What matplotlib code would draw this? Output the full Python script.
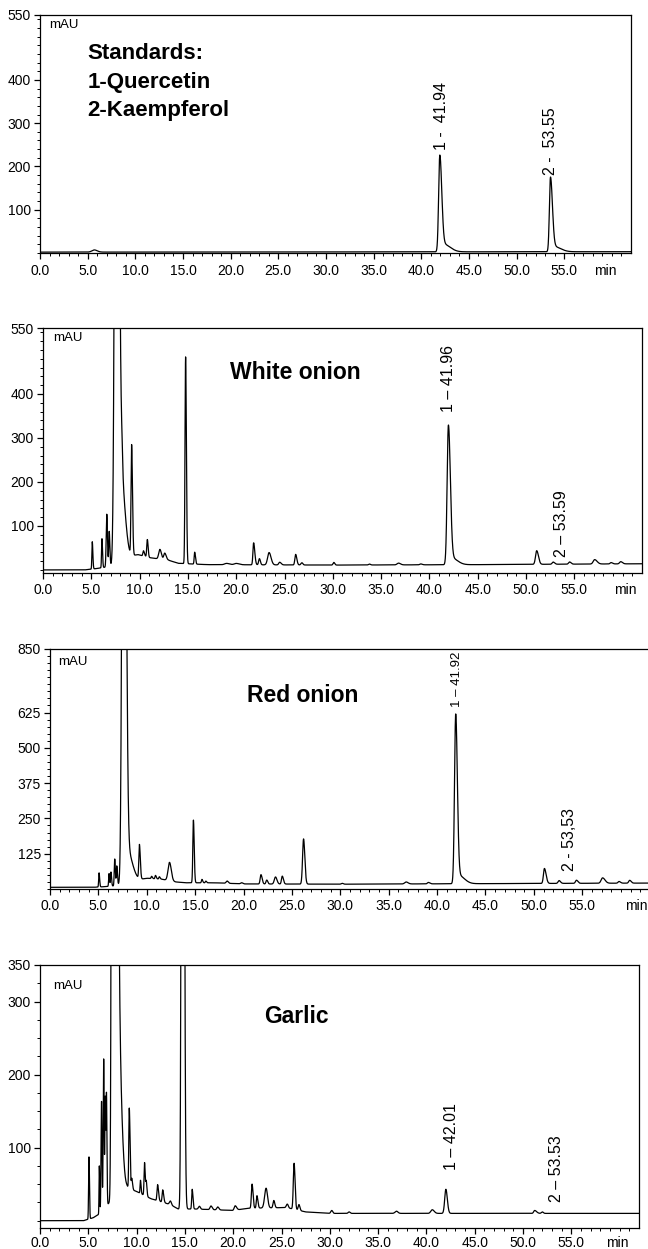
import numpy as np
import matplotlib.pyplot as plt
from matplotlib.ticker import MultipleLocator, FixedLocator

plt.rcParams['font.family'] = ['Liberation Sans', 'DejaVu Sans']

# ---- peak tables (retention time, height above baseline, left/right width) ----
# standards
rt1 = [5.7, 41.94, 42.3, 53.55, 53.9]
h1 = [5, 220, 18, 170, 12]
sl1 = [0.25, 0.12, 0.2, 0.11, 0.2]
sr1 = [0.3, 0.2, 0.7, 0.2, 0.7]
bt1 = [0, 62]
bv1 = [2, 3]

# white onion
rt2 = [5.1, 6.1, 6.6, 6.85, 7.6, 8.2, 9.17, 10.4, 10.8, 12.1, 12.6, 14.76, 15.7,
       19.0, 20.0, 21.8, 22.4, 23.4, 24.5, 26.15, 26.8, 30.1, 33.8, 36.8, 39.1,
       41.96, 42.3, 51.1, 52.8, 54.5, 57.1, 58.8, 59.8]
h2 = [62, 66, 120, 80, 2000, 150, 250, 12, 40, 22, 15, 470, 27,
      3, 3, 50, 14, 28, 6, 24, 5, 6, 2, 4, 2,
      314, 15, 31, 5, 5, 10, 3, 5]
sl2 = [0.04, 0.04, 0.06, 0.05, 0.16, 0.1, 0.06, 0.06, 0.06, 0.12, 0.1, 0.06, 0.05,
       0.2, 0.2, 0.07, 0.08, 0.15, 0.1, 0.08, 0.1, 0.08, 0.1, 0.15, 0.1,
       0.13, 0.2, 0.12, 0.1, 0.1, 0.15, 0.1, 0.12]
sr2 = [0.06, 0.06, 0.07, 0.07, 0.25, 0.35, 0.09, 0.1, 0.08, 0.15, 0.15, 0.08, 0.08,
       0.3, 0.3, 0.12, 0.1, 0.2, 0.15, 0.12, 0.1, 0.1, 0.1, 0.2, 0.15,
       0.2, 0.6, 0.18, 0.15, 0.15, 0.25, 0.15, 0.18]
bt2 = [0, 4.3, 5.5, 7.0, 8.8, 9.8, 11.0, 13.0, 14.0, 17.0, 30.0, 45.0, 62.0]
bv2 = [0, 0, 3, 8, 30, 35, 28, 22, 15, 12, 11, 12, 14]

# red onion
rt3 = [5.07, 6.1, 6.3, 6.69, 6.9, 7.62, 8.0, 9.24, 10.5, 10.9, 11.3, 12.35, 14.82,
       15.7, 16.1, 18.3, 19.8, 21.8, 22.4, 23.3, 24.0, 26.2, 30.2, 36.8, 39.1,
       41.92, 42.2, 51.09, 52.6, 54.4, 57.1, 58.8, 59.9]
h3 = [50, 45, 50, 95, 70, 3000, 110, 120, 8, 12, 8, 65, 222,
      12, 6, 8, 4, 33, 14, 25, 28, 160, 3, 7, 5,
      590, 30, 53, 10, 11, 19, 6, 10]
sl3 = [0.04, 0.04, 0.05, 0.05, 0.05, 0.15, 0.1, 0.06, 0.05, 0.05, 0.05, 0.15, 0.06,
       0.05, 0.05, 0.1, 0.1, 0.08, 0.08, 0.12, 0.08, 0.1, 0.1, 0.15, 0.1,
       0.12, 0.2, 0.1, 0.1, 0.1, 0.15, 0.1, 0.1]
sr3 = [0.06, 0.05, 0.06, 0.06, 0.07, 0.2, 0.5, 0.09, 0.08, 0.08, 0.08, 0.18, 0.08,
       0.08, 0.08, 0.12, 0.12, 0.12, 0.1, 0.15, 0.12, 0.13, 0.1, 0.2, 0.15,
       0.17, 0.6, 0.17, 0.15, 0.15, 0.25, 0.15, 0.15]
bt3 = [0, 4.5, 5.5, 7.0, 8.8, 10.0, 11.5, 13.0, 14.0, 17.0, 20.0, 30.0, 45.0, 62.0]
bv3 = [6, 6, 8, 12, 30, 38, 35, 25, 22, 22, 18, 17, 19, 21]

# garlic
rt4 = [5.07, 6.14, 6.37, 6.59, 6.75, 6.88, 7.55, 8.2, 9.24, 9.5, 10.4, 10.82, 11.0,
       12.17, 12.7, 13.5, 14.76, 15.75, 16.5, 17.7, 18.4, 20.2, 21.95, 22.45, 23.4,
       24.2, 25.6, 26.3, 26.8, 30.2, 32.0, 36.9, 40.6, 42.01, 51.2, 52.0]
h4 = [85, 65, 150, 205, 150, 150, 3000, 150, 110, 15, 18, 45, 20,
      22, 17, 5, 2000, 27, 4, 5, 4, 6, 33, 17, 27,
      10, 5, 63, 8, 4, 2, 3, 5, 33, 4, 2]
sl4 = [0.04, 0.03, 0.05, 0.05, 0.04, 0.04, 0.1, 0.1, 0.05, 0.05, 0.04, 0.05, 0.05,
       0.06, 0.06, 0.1, 0.1, 0.05, 0.1, 0.1, 0.1, 0.1, 0.07, 0.06, 0.15,
       0.08, 0.1, 0.08, 0.08, 0.1, 0.1, 0.15, 0.15, 0.12, 0.1, 0.1]
sr4 = [0.05, 0.04, 0.05, 0.05, 0.05, 0.05, 0.28, 0.3, 0.08, 0.08, 0.06, 0.07, 0.07,
       0.1, 0.1, 0.1, 0.13, 0.08, 0.1, 0.12, 0.12, 0.15, 0.1, 0.1, 0.15,
       0.1, 0.1, 0.1, 0.1, 0.1, 0.1, 0.15, 0.2, 0.15, 0.2, 0.1]
bt4 = [0, 4.5, 5.5, 6.0, 7.2, 9.0, 10.0, 11.5, 13.5, 14.3, 16.0, 20.0, 21.5, 25.5,
       27.5, 30.0, 62.0]
bv4 = [0, 0, 4, 8, 25, 45, 40, 30, 22, 16, 16, 14, 17, 18, 12, 10, 10]

t = np.linspace(0, 62, 12401)


def trace(rt, h, sl, sr, bt, bv):
    y = np.interp(t, bt, bv)
    for c, a, s1, s2 in zip(rt, h, sl, sr):
        d = t - c
        s = np.where(d < 0, s1, s2)
        y = y + a * np.exp(-d ** 2 / (2 * s ** 2))
    return y


def box(l, r, top, bot):
    return [l / 648, 1 - bot / 1249, (r - l) / 648, (bot - top) / 1249]


fig = plt.figure(figsize=(6.48, 12.49), dpi=100)

panels = [
    dict(pos=box(40, 631, 15, 253), data=(rt1, h1, sl1, sr1, bt1, bv1), ylim=(0, 550),
         yt=[100, 200, 300, 400, 550], ymin=20, mau=(1.0, 527), minx=59.3, pad=4, moff=-8,
         labels=[("1 -  41.94", 42.1, 238, 11.5), ("2 -  53.55", 53.55, 181, 11.5)]),
    dict(pos=box(43, 642, 328, 573), data=(rt2, h2, sl2, sr2, bt2, bv2), ylim=(-7, 550),
         yt=[100, 200, 300, 400, 550], ymin=20, mau=(1.1, 527), minx=60.3, pad=3.5, moff=-7.5,
         labels=[("1 \u2013 41.96", 42.0, 360, 11.5), ("2 \u2013 53.59", 53.7, 30, 11.5)]),
    dict(pos=box(50, 650, 649, 889), data=(rt3, h3, sl3, sr3, bt3, bv3), ylim=(0, 850),
         yt=[125, 250, 375, 500, 625, 850], ymin=25, mau=(0.8, 805), minx=60.6, pad=3, moff=-7,
         labels=[("1 \u2013 41.92", 42.05, 646, 9.5), ("2 - 53,53", 53.7, 62, 11.5)]),
    dict(pos=box(40, 639, 965, 1228), data=(rt4, h4, sl4, sr4, bt4, bv4), ylim=(-10, 350),
         yt=[100, 200, 300, 350], ymin=25, mau=(1.4, 321), minx=59.8, pad=1.5, moff=-6,
         labels=[("1 \u2013 42.01", 42.6, 69, 11.5), ("2 \u2013 53.53", 53.5, 26, 11.5)]),
]
titles = [None, ("White onion", 19.4, 448), ("Red onion", 20.4, 687), ("Garlic", 23.2, 280)]

for p, title in zip(panels, titles):
    ax = fig.add_axes(p['pos'])
    y = trace(*p['data'])
    ax.plot(t, y, color='black', lw=0.9)
    ax.set_xlim(0, 62)
    ax.set_ylim(*p['ylim'])
    ax.xaxis.set_major_locator(FixedLocator(np.arange(0, 56, 5)))
    ax.xaxis.set_minor_locator(FixedLocator(np.arange(0, 62, 1)))
    ax.set_xticklabels([f"{v:.1f}" for v in np.arange(0, 56, 5)])
    ax.yaxis.set_major_locator(FixedLocator(p['yt']))
    ax.yaxis.set_minor_locator(MultipleLocator(p['ymin']))
    ax.tick_params(which='major', direction='out', length=4, width=0.9, labelsize=10)
    ax.tick_params(axis='x', which='major', pad=p['pad'])
    ax.tick_params(axis='y', which='major', pad=2.5)
    ax.tick_params(which='minor', direction='out', length=2.2, width=0.7)
    for sp in ax.spines.values():
        sp.set_linewidth(0.9)
    ax.text(p['mau'][0], p['mau'][1], "mAU", fontsize=9.5, va='center', ha='left')
    ax.annotate("min", xy=(p['minx'], 0), xycoords=('data', 'axes fraction'),
                xytext=(0, p['moff']), textcoords='offset points', ha='center', va='top',
                fontsize=10)
    for txt, x, yb, fs in p['labels']:
        ax.text(x, yb, txt, rotation=90, ha='center', va='bottom', fontsize=fs)
    if title:
        ax.text(title[1], title[2], title[0], fontsize=16.5, fontweight='bold',
                ha='left', va='center')
    else:
        for line, yv in zip(["Standards:", "1-Quercetin", "2-Kaempferol"], [462, 395, 330]):
            ax.text(5.0, yv, line, fontsize=16, fontweight='bold', ha='left', va='center')

fig.savefig("out.png", dpi=100)
